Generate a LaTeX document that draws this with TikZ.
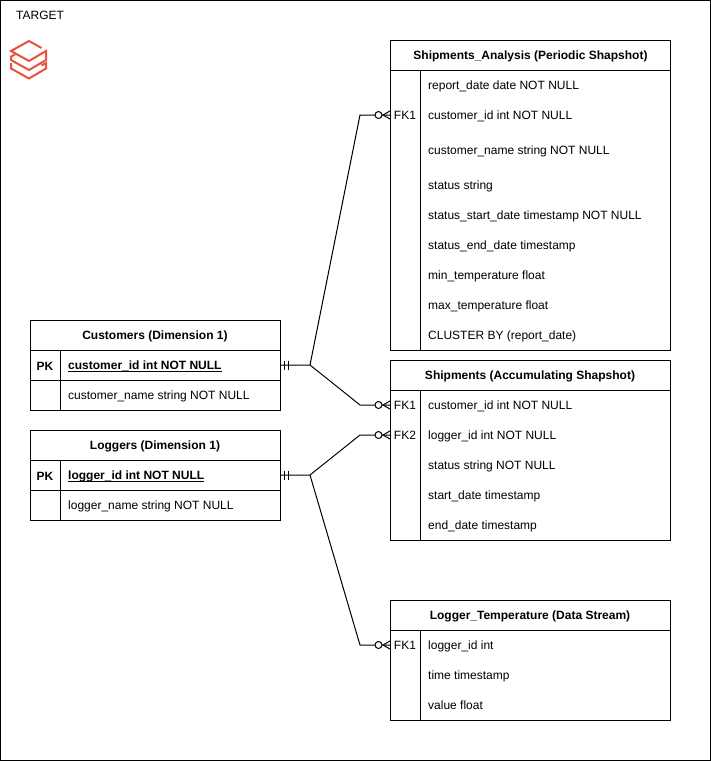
\documentclass[tikz,border=0pt]{standalone}
\usepackage{fontspec}
\setmainfont{Liberation Sans}
\definecolor{brick}{HTML}{E8513A}
\tikzset{
  cell/.style={draw=black,line width=1pt,rectangle,inner sep=0pt,outer sep=0pt,minimum width=#1,minimum height=30pt,anchor=north west},
  frame/.style={draw=black,line width=1pt,rectangle,inner sep=0pt,outer sep=0pt,anchor=north west},
  head/.style={font=\fontsize{12}{14}\selectfont\bfseries,inner sep=0pt,yshift=-1pt},
  pktxt/.style={font=\fontsize{12}{14}\selectfont\bfseries,inner sep=0pt,anchor=base west},
  rowtxt/.style={font=\fontsize{12}{14}\selectfont,anchor=west,inner sep=0pt,yshift=-1pt},
  keytxt/.style={font=\fontsize{12}{14}\selectfont,minimum width=30pt,minimum height=30pt,inner sep=0pt,outer sep=0pt},
  link/.style={draw=black,line width=1pt},
  logo/.style={draw=brick,line width=2pt,line join=miter}
}
\newcommand{\crowfoot}[1]{%
  \draw[link] (#1.west) ++(-7,0) -- ++(7,-4);
  \draw[link] (#1.west) ++(-7,0) -- ++(7,4);
  \draw[link,fill=white] (#1.west) ++(-11.5,0) circle (3.5pt);}
\newcommand{\onlyone}[1]{%
  \draw[link] (#1.east) ++(4,-4.5) -- ++(0,9);
  \draw[link] (#1.east) ++(8,-4.5) -- ++(0,9);}
\newcommand{\ulbar}[1]{\setbox0=\hbox{#1}\rlap{\copy0}\raisebox{-2pt}{\rule{\wd0}{1pt}}}
\begin{document}
\begin{tikzpicture}[x=1pt,y=-1pt]
\useasboundingbox (0,0) rectangle (711,761);
\node[frame,minimum width=710pt,minimum height=760pt] (outer) at (0.5,0.5) {};
\node[rowtxt] (target) at (16,14) {TARGET};
% logo
\draw[logo] (41.5,48) -- (29,41) -- (11,51) -- (29,61) -- (46,51) -- (46,60) -- (29,70) -- (11,60) -- (11,56.5) -- (15,54.5);
\draw[logo] (11,63) -- (11,68.5) -- (29,78.5) -- (46,68.5) -- (46,63) -- (41.5,65.5);
% Shipments_Analysis
\node[frame,minimum width=280pt,minimum height=310pt] (sa) at (390,40) {};
\node[cell=280pt] (sah) at (390,40) {};
\node[head] (sat) at (530.5,55) {Shipments\_Analysis (Periodic Shapshot)};
\node[frame,minimum width=30pt,minimum height=280pt] (sak) at (390,70) {};
\node[rowtxt] (sa1) at (428,85) {report\_date date NOT NULL};
\node[keytxt] (safk) at (405,115) {FK1};
\node[rowtxt] (sa2) at (428,115) {customer\_id int NOT NULL};
\node[rowtxt] (sa3) at (428,150) {customer\_name string NOT NULL};
\node[rowtxt] (sa4) at (428,185) {status string};
\node[rowtxt] (sa5) at (428,215) {status\_start\_date timestamp NOT NULL};
\node[rowtxt] (sa6) at (428,245) {status\_end\_date timestamp};
\node[rowtxt] (sa7) at (428,275) {min\_temperature float};
\node[rowtxt] (sa8) at (428,305) {max\_temperature float};
\node[rowtxt] (sa9) at (428,335) {CLUSTER BY (report\_date)};
% Shipments
\node[frame,minimum width=280pt,minimum height=180pt] (sh) at (390,360) {};
\node[cell=280pt] (shh) at (390,360) {};
\node[head] (sht) at (530,375) {Shipments (Accumulating Shapshot)};
\node[frame,minimum width=30pt,minimum height=150pt] (shk) at (390,390) {};
\node[keytxt] (shfka) at (405,405) {FK1};
\node[keytxt] (shfkb) at (405,435) {FK2};
\node[rowtxt] (sh1) at (428,405) {customer\_id int NOT NULL};
\node[rowtxt] (sh2) at (428,435) {logger\_id int NOT NULL};
\node[rowtxt] (sh3) at (428,465) {status string NOT NULL};
\node[rowtxt] (sh4) at (428,495) {start\_date timestamp};
\node[rowtxt] (sh5) at (428,525) {end\_date timestamp};
% Logger_Temperature
\node[frame,minimum width=280pt,minimum height=120pt] (lt) at (390,600) {};
\node[cell=280pt] (lth) at (390,600) {};
\node[head] (ltt) at (530,615) {Logger\_Temperature (Data Stream)};
\node[frame,minimum width=30pt,minimum height=90pt] (ltk) at (390,630) {};
\node[keytxt] (ltfk) at (405,645) {FK1};
\node[rowtxt] (lt1) at (428,645) {logger\_id int};
\node[rowtxt] (lt2) at (428,675) {time timestamp};
\node[rowtxt] (lt3) at (428,704) {value float};
% Customers
\node[cell=250pt] (cuh) at (30,320) {};
\node[head] (cut) at (155,335) {Customers (Dimension 1)};
\node[cell=30pt] (cupk) at (30,350) {};
\node[head] (cupkt) at (45,365) {PK};
\node[cell=220pt] (cuid) at (60,350) {};
\node[pktxt] (cuidt) at (68,369.5) {\ulbar{customer\_id int NOT NULL}};
\node[cell=30pt] (cuk2) at (30,380) {};
\node[cell=220pt] (cun) at (60,380) {};
\node[rowtxt] (cunt) at (68,395) {customer\_name string NOT NULL};
% Loggers
\node[cell=250pt] (loh) at (30,430) {};
\node[head] (lot) at (155,445) {Loggers (Dimension 1)};
\node[cell=30pt] (lopk) at (30,460) {};
\node[head] (lopkt) at (45,475) {PK};
\node[cell=220pt] (loid) at (60,460) {};
\node[pktxt] (loidt) at (68,479.5) {\ulbar{logger\_id int NOT NULL}};
\node[cell=30pt] (lok2) at (30,490) {};
\node[cell=220pt] (lon) at (60,490) {};
\node[rowtxt] (lont) at (68,505) {logger\_name string NOT NULL};
% connectors
\coordinate (cj) at (310,365);
\coordinate (lj) at (310,475);
\draw[link] (cuid.east) -- (cj) -- (360,115) -- (safk.west);
\draw[link] (cj) -- (360,405) -- (shfka.west);
\draw[link] (loid.east) -- (lj) -- (360,435) -- (shfkb.west);
\draw[link] (lj) -- (360,645) -- (ltfk.west);
\onlyone{cuid}
\onlyone{loid}
\crowfoot{safk}
\crowfoot{shfka}
\crowfoot{shfkb}
\crowfoot{ltfk}
\end{tikzpicture}
\end{document}
